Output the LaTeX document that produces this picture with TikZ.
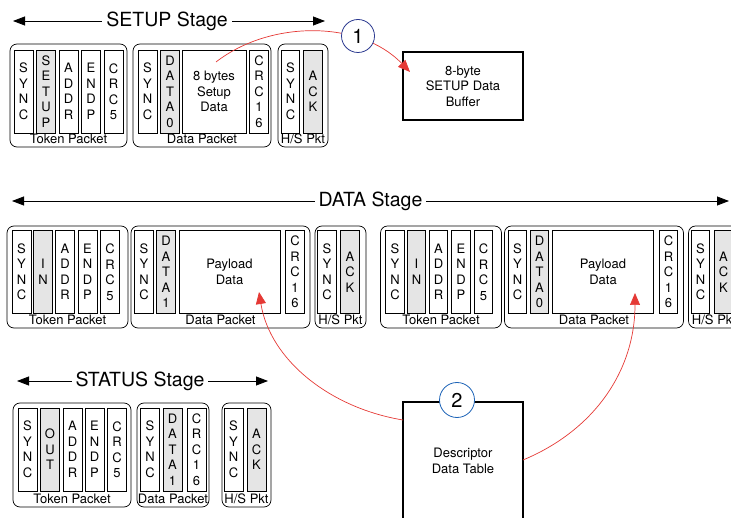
\documentclass[tikz,border=0pt]{standalone}
\usepackage{fontspec}
\setmainfont{TeX Gyre Heros}
\usetikzlibrary{arrows.meta}

\definecolor{fieldgray}{gray}{0.9}
\definecolor{callred}{HTML}{E53935}
\definecolor{numblue}{HTML}{2B3990}
\definecolor{numblueb}{HTML}{1C63B7}

\tikzset{
  fld/.style={draw, line width=0.7pt, minimum height=83pt, inner sep=0pt, align=center,
    font=\fontsize{13}{15.5}\selectfont},
  pkt/.style={draw, line width=0.7pt, rounded corners=7pt, inner sep=0pt},
  pktlabel/.style={anchor=south, yshift=3.5pt, inner sep=0pt, font=\fontsize{13}{15}\selectfont},
  stage/.style={fill=white, inner sep=4pt, font=\fontsize{19.5}{22}\selectfont},
  stagearrow/.style={line width=0.8pt, {Triangle[length=12pt,width=9pt]}-{Triangle[length=12pt,width=9pt]}},
  bigbox/.style={draw, line width=1.2pt, align=center, inner sep=0pt,
    font=\fontsize{13}{15.5}\selectfont},
  num/.style={circle, draw, line width=0.8pt, fill=white, minimum size=33pt, inner sep=0pt,
    font=\fontsize{20}{20}\selectfont},
  callout/.style={callred, line width=0.7pt, -{Triangle[length=12pt,width=10pt]}}
}

% #1 prefix, #2 y centre, #3 list x/width/letters/fill
\newcommand\pktfields[3]{%
  \foreach \x/\w/\t/\f [count=\i] in {#3}
    \node[fld, minimum width=\w pt, fill=\f] (#1\i) at (\x,#2) {\t};}

\begin{document}
\begin{tikzpicture}[x=1pt,y=-1pt]
\useasboundingbox (0,0) rectangle (731,518);

% SETUP stage
\coordinate (setupL) at (13,21);
\coordinate (setupR) at (325,21);
\draw[stagearrow] (setupL) -- node[stage, pos=0.494] (setupT) {SETUP Stage} (setupR);
\node[pkt, minimum width=117pt, minimum height=103pt] (sTok) at (68.5,95.5) {};
\node[pktlabel] (sTokL) at (sTok.south) {Token Packet};
\pktfields{sT}{91.5}{23.5/19/{S\\Y\\N\\C}/white, 46/19/{S\\E\\T\\U\\P}/fieldgray,
  68.5/19/{A\\D\\D\\R}/white, 91/19/{E\\N\\D\\P}/white, 113.5/19/{C\\R\\C\\5}/white}
\node[pkt, minimum width=138pt, minimum height=103pt] (sDat) at (202,95.5) {};
\node[pktlabel] (sDatL) at (sDat.south) {Data Packet};
\pktfields{sD}{91.5}{147.5/19/{S\\Y\\N\\C}/white, 170/18.5/{D\\A\\T\\A\\0}/fieldgray,
  214/64/{8 bytes\\Setup\\Data}/white, 259/18.5/{C\\R\\C\\1\\6}/white}
\node[pkt, minimum width=50pt, minimum height=103pt] (sHs) at (303,95.5) {};
\node[pktlabel] (sHsL) at (sHs.south) {H/S Pkt};
\pktfields{sH}{91.5}{290.5/18.5/{S\\Y\\N\\C}/white, 313/18.5/{A\\C\\K}/fieldgray}

\node[bigbox, minimum width=120pt, minimum height=68pt] (buf) at (463,86) {8-byte\\SETUP Data\\Buffer};
\coordinate (setupSrc) at (216,62);
\coordinate (bufIn) at (410,72);
\draw[callout] (setupSrc) .. controls (270,20) and (360,20) .. (bufIn);
\node[num, draw=numblue] (num1) at (358,36) {1};

% DATA stage
\coordinate (dataL) at (12,201);
\coordinate (dataR) at (729,201);
\draw[stagearrow] (dataL) -- node[stage] (dataT) {DATA Stage} (dataR);
\foreach \g/\dx/\n in {a/0/1, b/373.5/0} {
  \begin{scope}[xshift=\dx pt]
    \node[pkt, minimum width=121pt, minimum height=102pt] (\g Tok) at (67.5,277) {};
    \node[pktlabel] (\g TokL) at (\g Tok.south) {Token Packet};
    \pktfields{\g T}{272}{21.5/19/{S\\Y\\N\\C}/white, 43/18.5/{I\\N}/fieldgray,
      65/18.5/{A\\D\\D\\R}/white, 87.5/19/{E\\N\\D\\P}/white, 110/18.5/{C\\R\\C\\5}/white}
    \node[pkt, minimum width=179pt, minimum height=102pt] (\g Dat) at (220.5,277) {};
    \node[pktlabel] (\g DatL) at (\g Dat.south) {Data Packet};
    \pktfields{\g D}{272}{144/18.5/{S\\Y\\N\\C}/white, 166/18.5/{D\\A\\T\\A\\\n}/fieldgray,
      229.5/101/{Payload\\Data}/white, 295/18.5/{C\\R\\C\\1\\6}/white}
    \node[pkt, minimum width=51pt, minimum height=102pt] (\g Hs) at (340.5,277) {};
    \node[pktlabel] (\g HsL) at (\g Hs.south) {H/S Pkt};
    \pktfields{\g H}{272}{327/18.5/{S\\Y\\N\\C}/white, 350/18.5/{A\\C\\K}/fieldgray}
  \end{scope}
}

% STATUS stage
\coordinate (statL) at (17,381);
\coordinate (statR) at (268,381);
\draw[stagearrow] (statL) -- node[stage, pos=0.49] (statT) {STATUS Stage} (statR);
\node[pkt, minimum width=118pt, minimum height=104pt] (tTok) at (72,455) {};
\node[pktlabel] (tTokL) at (tTok.south) {Token Packet};
\pktfields{tT}{449.5}{27.5/19/{S\\Y\\N\\C}/white, 50/18.5/{O\\U\\T}/fieldgray,
  72.5/19/{A\\D\\D\\R}/white, 94.5/19/{E\\N\\D\\P}/white, 117/19.5/{C\\R\\C\\5}/white}
\node[pkt, minimum width=72pt, minimum height=104pt] (tDat) at (173,455) {};
\node[pktlabel] (tDatL) at (tDat.south) {Data Packet};
\pktfields{tD}{449.5}{150/18.5/{S\\Y\\N\\C}/white, 172.5/19/{D\\A\\T\\A\\1}/fieldgray,
  196.5/19/{C\\R\\C\\1\\6}/white}
\node[pkt, minimum width=49pt, minimum height=104pt] (tHs) at (246.5,455) {};
\node[pktlabel] (tHsL) at (tHs.south) {H/S Pkt};
\pktfields{tH}{449.5}{233.5/19/{S\\Y\\N\\C}/white, 256.5/19/{A\\C\\K}/fieldgray}

% descriptor table
\node[bigbox, minimum width=120pt, minimum height=118pt] (desc) at (463,461) {Descriptor\\Data Table};
\coordinate (descL) at (403,420);
\coordinate (descR) at (523,460);
\coordinate (payA) at (259,292);
\coordinate (payB) at (635,293);
\draw[callout] (descL) .. controls (330,408) and (270,360) .. (payA);
\draw[callout] (descR) .. controls (595,430) and (635,370) .. (payB);
\node[num, draw=numblueb, minimum size=35pt] (num2) at (457,400) {2};
\end{tikzpicture}
\end{document}
